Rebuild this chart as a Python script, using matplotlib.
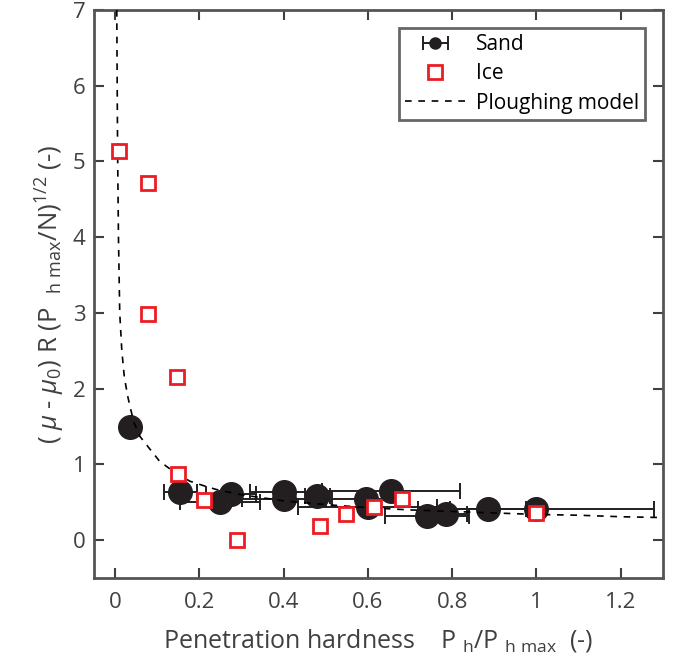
import matplotlib
matplotlib.use('agg')
import matplotlib.pyplot as plt
from matplotlib.legend_handler import HandlerErrorbar

# Sand data (black circles with horizontal error bars)
sand_x = [0.035, 0.155, 0.25, 0.275, 0.40, 0.40, 0.48, 0.595, 0.60, 0.655, 0.74, 0.785, 0.885, 1.0]
sand_y = [1.49, 0.64, 0.50, 0.61, 0.64, 0.55, 0.58, 0.55, 0.44, 0.65, 0.32, 0.34, 0.41, 0.41]
sand_xerr = [0.0, 0.04, 0.095, 0.06, 0.08, 0.1, 0.03, 0.08, 0.165, 0.163, 0.1, 0.05, 0.09, 0.28]

# Ice data (red open squares)
ice_x = [0.01, 0.077, 0.077, 0.148, 0.15, 0.21, 0.29, 0.486, 0.547, 0.614, 0.68, 1.0]
ice_y = [5.14, 4.71, 2.98, 2.16, 0.88, 0.53, 0.0, 0.19, 0.34, 0.44, 0.54, 0.36]

# Ploughing model curve
model_x = [0.004, 0.005, 0.006, 0.008, 0.011, 0.016, 0.022, 0.03, 0.036, 0.045, 0.059,
           0.083, 0.106, 0.138, 0.177, 0.21, 0.24, 0.3, 0.4, 0.5, 0.6, 0.7, 0.8, 0.9,
           1.0, 1.1, 1.2, 1.29]
model_y = [7.0, 6.0, 5.1, 4.0, 3.0, 2.5, 2.15, 1.9, 1.75, 1.55, 1.37,
           1.2, 1.04, 0.91, 0.78, 0.72, 0.67, 0.6, 0.52, 0.47, 0.43, 0.40, 0.38, 0.36,
           0.34, 0.33, 0.31, 0.30]

x_ticks = [0, 0.2, 0.4, 0.6, 0.8, 1.0, 1.2]
x_ticklabels = ['0', '0.2', '0.4', '0.6', '0.8', '1', '1.2']
y_ticks = [0, 1, 2, 3, 4, 5, 6, 7]

plt.rcParams['font.family'] = ['Open Sans', 'DejaVu Sans']
plt.rcParams['mathtext.fontset'] = 'custom'
plt.rcParams['mathtext.rm'] = 'Open Sans'
plt.rcParams['mathtext.it'] = 'Open Sans:italic'

gray = '#404040'
black = '#231f20'
fig = plt.figure(figsize=(6.74, 6.66), dpi=100)
ax = fig.add_axes([0.1395, 0.132, 0.844, 0.853])

ax.errorbar(sand_x, sand_y, xerr=sand_xerr, fmt='o', color=black, ecolor=black,
            markersize=17, elinewidth=1.4, capsize=6, capthick=1.4, zorder=2)
ice_h, = ax.plot(ice_x, ice_y, 's', mfc='white', mec='#ed1c24', mew=2, markersize=10,
                 linestyle='none', label='Ice', zorder=4)
model_h, = ax.plot(model_x, model_y, '--', color='black', lw=1.2, dashes=(4, 4),
                   label='Ploughing model', zorder=3)
# legend-only handle with a smaller marker for the sand series
sand_h = ax.errorbar([float('nan')], [float('nan')], xerr=[1.0], fmt='o', color=black,
                     markersize=8, elinewidth=1.4, capsize=5, capthick=1.4, label='Sand')

ax.set_xlim(-0.05, 1.3)
ax.set_ylim(-0.5, 7)
ax.set_xticks(x_ticks)
ax.set_xticklabels(x_ticklabels)
ax.set_yticks(y_ticks)
ax.tick_params(direction='in', length=7, width=1.5, top=True, right=True,
               labelsize=16, colors=gray)
ax.tick_params(axis='x', pad=10)
ax.tick_params(axis='y', pad=6)
for s in ax.spines.values():
    s.set_color('#555555')
    s.set_linewidth(2)

ax.set_xlabel(r'Penetration hardness    P $_{\mathregular{h}}$/P $_{\mathregular{h\ max}}$  (-)',
              fontsize=18, color=gray, labelpad=10)
ax.set_ylabel(r'( $\mu$ - $\mu_0$) R (P  $_{\mathregular{h\ max}}$/N)$^{\mathregular{1/2}}$ (-)',
              fontsize=18.5, color=gray, labelpad=4)

leg = ax.legend(handles=[sand_h, ice_h, model_h], loc='upper right', fontsize=15,
                frameon=True, fancybox=False, borderaxespad=0.85, handlelength=2.9,
                borderpad=0.3, labelspacing=0.4, handletextpad=0.5,
                handler_map={type(sand_h): HandlerErrorbar(xerr_size=0.6)})
leg.get_frame().set_edgecolor('#404040')
leg.get_frame().set_linewidth(2)

fig.savefig('out.png', dpi=100)
plt.close(fig)
